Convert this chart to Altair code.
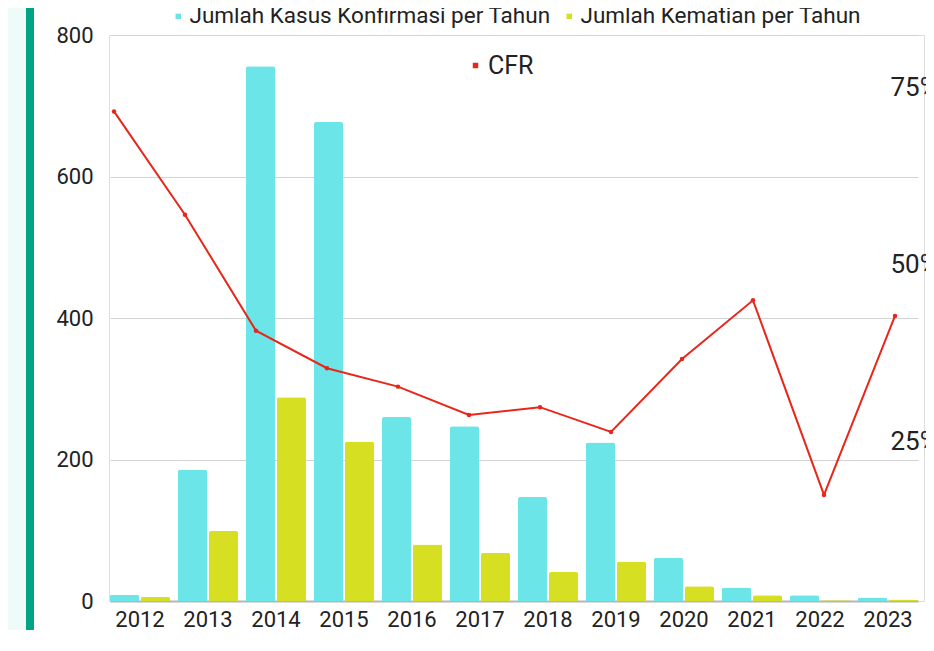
import altair as alt
import pandas as pd

# ---- data ----
years = ["2012", "2013", "2014", "2015", "2016", "2017",
         "2018", "2019", "2020", "2021", "2022", "2023"]
kasus = [9, 186, 756, 677, 260, 247, 147, 224, 61, 19, 8, 5]
kematian = [6, 99, 288, 225, 80, 68, 41, 56, 21, 8, 1, 2]
cfr_pct = [69.2, 54.6, 38.2, 32.9, 30.3, 26.3, 27.4, 23.9, 34.2, 42.5, 15.0, 40.3]

S1 = "Jumlah Kasus Konfirmasi per Tahun"
S2 = "Jumlah Kematian per Tahun"

CYAN = "#6ce5e8"
YELLOW = "#d6df22"
RED = "#e8261a"
TEAL = "#00a384"
MINT = "#effbf9"
FONT = "Roboto"

bars_df = pd.DataFrame({
    "Tahun": years * 2,
    "Seri": [S1] * len(years) + [S2] * len(years),
    "Nilai": kasus + kematian,
})
cfr_df = pd.DataFrame({
    "Tahun": years,
    "CFR": [v / 100 for v in cfr_pct],
    "Label": ["CFR"] * len(years),
})

# decorative strip on the left
one = alt.Data(values=[{"k": 1}])
mint = alt.Chart(one).mark_rect(color=MINT).encode(
    x=alt.value(-101), x2=alt.value(-83), y=alt.value(-27), y2=alt.value(600))
teal = alt.Chart(one).mark_rect(color=TEAL).encode(
    x=alt.value(-83), x2=alt.value(-75), y=alt.value(-27), y2=alt.value(600))

bars = alt.Chart(bars_df).mark_bar(cornerRadiusTopLeft=2, cornerRadiusTopRight=2).encode(
    x=alt.X("Tahun:N", sort=years,
            scale=alt.Scale(range=[1, 809], paddingInner=0.1176, paddingOuter=0),
            axis=alt.Axis(title=None, labelAngle=0, labelFontSize=22, labelColor="#222",
                          labelPadding=8, ticks=False, domainColor="#b5b5b5",
                          domainWidth=2, labelFont=FONT)),
    xOffset=alt.XOffset("Seri:N", sort=[S1, S2],
                        scale=alt.Scale(paddingInner=0.065, paddingOuter=0)),
    y=alt.Y("Nilai:Q", scale=alt.Scale(domain=[0, 800], nice=False),
            axis=alt.Axis(values=[0, 200, 400, 600, 800], title=None, domain=False,
                          ticks=False, grid=True, gridColor="#d3d3d3", labelFontSize=22,
                          labelColor="#222", labelPadding=16, labelFont=FONT)),
    color=alt.Color("Seri:N", sort=[S1, S2],
                    scale=alt.Scale(domain=[S1, S2], range=[CYAN, YELLOW]),
                    legend=alt.Legend(title=None, orient="none", legendX=58, legendY=-30,
                                      direction="horizontal", symbolType="square",
                                      symbolSize=30, labelFontSize=22.5, columnPadding=7,
                                      labelOffset=0, padding=0, labelColor="#222",
                                      labelLimit=800, labelFont=FONT)),
)

line_base = alt.Chart(cfr_df).encode(
    x=alt.X("Tahun:N", sort=years,
            scale=alt.Scale(type="point", range=[5, 786], padding=0), axis=None),
    y=alt.Y("CFR:Q", scale=alt.Scale(domain=[0, 0.8], nice=False),
            axis=alt.Axis(orient="right", values=[0.25, 0.5, 0.75], format=".0%",
                          title=None, grid=False, domain=False, ticks=False,
                          labelAlign="left", labelPadding=0, offset=-34, labelOffset=17,
                          labelFontSize=26, labelColor="#222", labelFont=FONT)),
    color=alt.Color("Label:N", scale=alt.Scale(domain=["CFR"], range=[RED]),
                    legend=alt.Legend(title=None, orient="none", legendX=354, legendY=18,
                                      symbolType="square", symbolSize=30,
                                      symbolFillColor=RED, symbolStrokeWidth=0,
                                      labelFontSize=25, labelOffset=0, padding=0,
                                      labelColor="#222", labelLimit=300, labelFont=FONT)),
)
line = line_base.mark_line(strokeWidth=2)
pts = line_base.mark_circle(size=20, opacity=1)

chart = alt.layer(mint, teal, bars, alt.layer(line, pts)).resolve_scale(
    x="independent", y="independent", color="independent"
).properties(
    width=815, height=566,
    autosize=alt.AutoSizeParams(type="none"),
    padding={"left": 101, "top": 27, "right": 2, "bottom": 29},
    background="white",
).configure_view(stroke=None).configure(font=FONT)

chart.save("out.html", embed_options={"renderer": "svg", "actions": False})
